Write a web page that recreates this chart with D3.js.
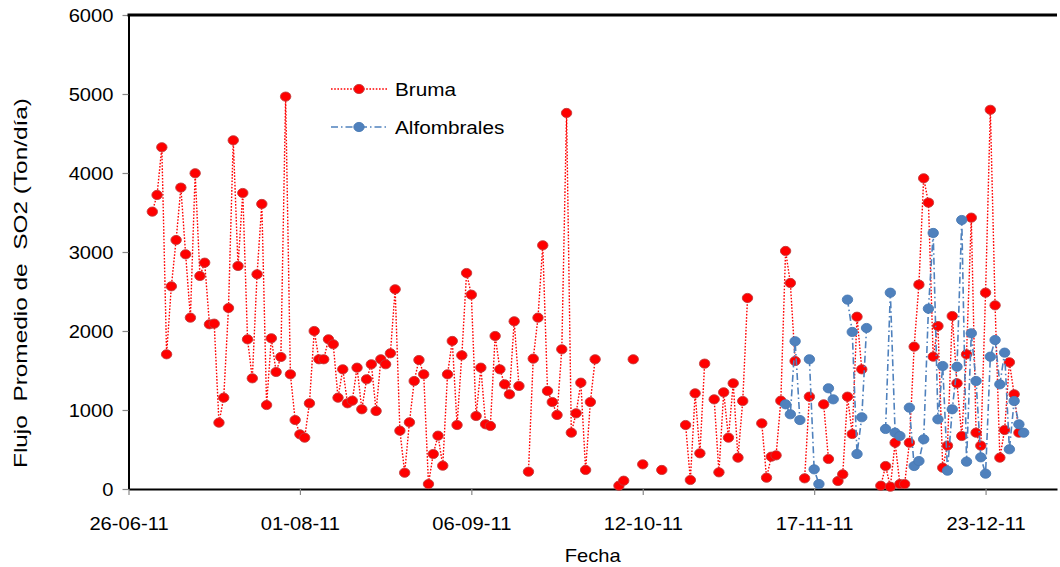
<!DOCTYPE html>
<html>
<head>
<meta charset="utf-8">
<script src="https://cdn.jsdelivr.net/npm/d3@7"></script>
<style>
  body { margin: 0; background: #fff; }
  svg text { font-family: "Liberation Sans", Arial, sans-serif; fill: #000; }
</style>
</head>
<body>
<svg id="chart" width="1060" height="567"></svg>
<script>
// Daily average SO2 flux (Ton/día); null = no measurement that day
const brumaStart = "2011-07-01";
const bruma = [
  3511, 3722, 4326, 1705, 2566, 3152, 3815, 2971, 2169, 3997,
  2697, 2865, 2085, 2093, 840, 1156, 2291, 4414, 2823, 3747,
  1895, 1401, 2718, 3608, 1063, 1908, 1481, 1671, 4967, 1452,
  873, 692, 650, 1085, 2000, 1642, 1642, 1895, 1832, 1156,
  1515, 1085, 1118, 1536, 1009, 1389, 1579, 987, 1642, 1579,
  1718, 2528, 738, 206, 844, 1367, 1633, 1452, 63, 443,
  675, 295, 1452, 1874, 810, 1692, 2734, 2460, 924, 1536,
  819, 798, 1937, 1515, 1325, 1199, 2123, 1304, null, 219,
  1650, 2169, 3085, 1241, 1101, 937, 1768, 4760, 713, 958,
  1346, 241, 1101, 1642, null, null, null, null, 42, 105,
  null, 1642, null, 312, null, null, null, 241, null, null,
  null, null, 810, 114, 1211, 452, 1587, null, 1135, 211,
  1224, 650, 1338, 397, 1114, 2418, null, null, 831, 143,
  409, 426, 1118, 3013, 2608, 1620, null, 135, 1169, null,
  null, 1072, 380, null, 101, 186, 1169, 696, 2181, 1515,
  null, null, null, 42, 291, 29, 586, 63, 63, 586,
  1802, 2587, 3933, 3625, 1675, 2063, 270, 549, 2190, 1338,
  671, 1705, 3435, 713, 549, 2485, 4800, 2325, 397, 747,
  1604, 1199, 713
];
const alfStart = "2011-11-11";
const alfombrales = [
  1072, 946, 1870, 873, null, 1642, 249, 63, null, 1275,
  1135, null, null, 2397, 1988, 443, 908, 2038, null, null,
  null, 760, 2485, 713, 671, null, 1030, 291, 354, 629,
  2283, 3241, 882, 1557, 232, 1009, 1548, 3405, 346, 1971,
  1367, 401, 194, 1675, 1886, 1325, 1726, 503, 1114, 819,
  713
];
const seriesNames = ["Bruma", "Alfombrales"];
const yTicks = [0, 1000, 2000, 3000, 4000, 5000, 6000];
const xTickDates = ["2011-06-26", "2011-08-01", "2011-09-06", "2011-10-12", "2011-11-17", "2011-12-23"];
const xDomain = ["2011-06-26", "2012-01-07"];

const parse = d3.utcParse("%Y-%m-%d");
const toPoints = (start, vals) =>
  vals.map((v, i) => ({ date: d3.utcDay.offset(parse(start), i), v }));

const series = [
  { name: seriesNames[0], pts: toPoints(brumaStart, bruma),
    fill: "#ff0000", edge: "#c23b3b", line: "#ff0000", dash: "1.6,1.6", lw: 1.4 },
  { name: seriesNames[1], pts: toPoints(alfStart, alfombrales),
    fill: "#4f81bd", edge: "#4a7ab4", line: "#4f81bd", dash: "7,3,1.5,3", lw: 1.6 }
];

const svg = d3.select("#chart");
const L = 128.5, R = 1057, T = 15, B = 489;
const SX = 1.12; // glyphs are drawn slightly wide

const x = d3.scaleUtc().domain(xDomain.map(parse)).range([L, R]);
const y = d3.scaleLinear().domain([0, 6000]).range([B, T]);

// y axis
const gy = svg.append("g").attr("transform", `translate(${L},0)`)
  .call(d3.axisLeft(y).tickValues(yTicks).tickSize(6).tickSizeOuter(0).tickFormat(d3.format("d")));
gy.select(".domain").attr("stroke", "#000").attr("stroke-width", 2);
gy.selectAll(".tick line").attr("stroke", "#888").attr("stroke-width", 1.2);
gy.selectAll(".tick text")
  .attr("x", null).attr("dy", null)
  .attr("font-size", 18)
  .attr("text-anchor", "end")
  .attr("transform", `translate(-15,6.5) scale(${SX},1)`);

// x axis
const gx = svg.append("g").attr("transform", `translate(0,${B})`)
  .call(d3.axisBottom(x).tickValues(xTickDates.map(parse)).tickSize(6).tickSizeOuter(0)
    .tickFormat(d3.utcFormat("%d-%m-%y")));
gx.select(".domain").attr("stroke", "#000").attr("stroke-width", 2.2);
gx.selectAll(".tick line").attr("stroke", "#888").attr("stroke-width", 1.2);
gx.selectAll(".tick text")
  .attr("y", null).attr("dy", null)
  .attr("font-size", 18)
  .attr("text-anchor", "middle")
  .attr("transform", `translate(0,41) scale(${SX},1)`);

// top border of the plot area
svg.append("line").attr("x1", L - 1).attr("x2", R).attr("y1", T).attr("y2", T)
  .attr("stroke", "#000").attr("stroke-width", 3);

// series: dotted / dash-dot lines broken at missing days, then markers
const line = d3.line().defined(d => d.v != null).x(d => x(d.date)).y(d => y(d.v));
series.forEach(s => {
  const g = svg.append("g");
  g.append("path").datum(s.pts).attr("d", line)
    .attr("fill", "none").attr("stroke", s.line).attr("stroke-width", s.lw)
    .attr("stroke-dasharray", s.dash);
  g.selectAll("ellipse").data(s.pts.filter(d => d.v != null)).join("ellipse")
    .attr("cx", d => x(d.date)).attr("cy", d => y(d.v))
    .attr("rx", 5.2).attr("ry", 4.6)
    .attr("fill", s.fill).attr("stroke", s.edge).attr("stroke-width", 0.9);
});

// legend
const lg = svg.append("g");
series.forEach((s, i) => {
  const ly = 89 + i * 38;
  lg.append("line").attr("x1", 331).attr("x2", 387).attr("y1", ly).attr("y2", ly)
    .attr("stroke", s.line).attr("stroke-width", s.lw).attr("stroke-dasharray", s.dash);
  lg.append("ellipse").attr("cx", 359).attr("cy", ly).attr("rx", 5.2).attr("ry", 4.6)
    .attr("fill", s.fill).attr("stroke", s.edge).attr("stroke-width", 0.9);
  lg.append("text").attr("font-size", 18.5)
    .attr("transform", `translate(395,${ly + 6.5}) scale(${SX},1)`).text(s.name);
});

// axis titles
svg.append("text").attr("font-size", 18).attr("text-anchor", "middle")
  .attr("transform", `translate(${(L + R) / 2},562) scale(${SX},1)`).text("Fecha");
svg.append("text").attr("font-size", 19).attr("text-anchor", "middle")
  .attr("xml:space", "preserve").style("white-space", "pre")
  .attr("textLength", 370).attr("lengthAdjust", "spacingAndGlyphs")
  .attr("transform", `translate(27,283) rotate(-90)`)
  .text("Flujo  Promedio de  SO2 (Ton/día)");
</script>
</body>
</html>
